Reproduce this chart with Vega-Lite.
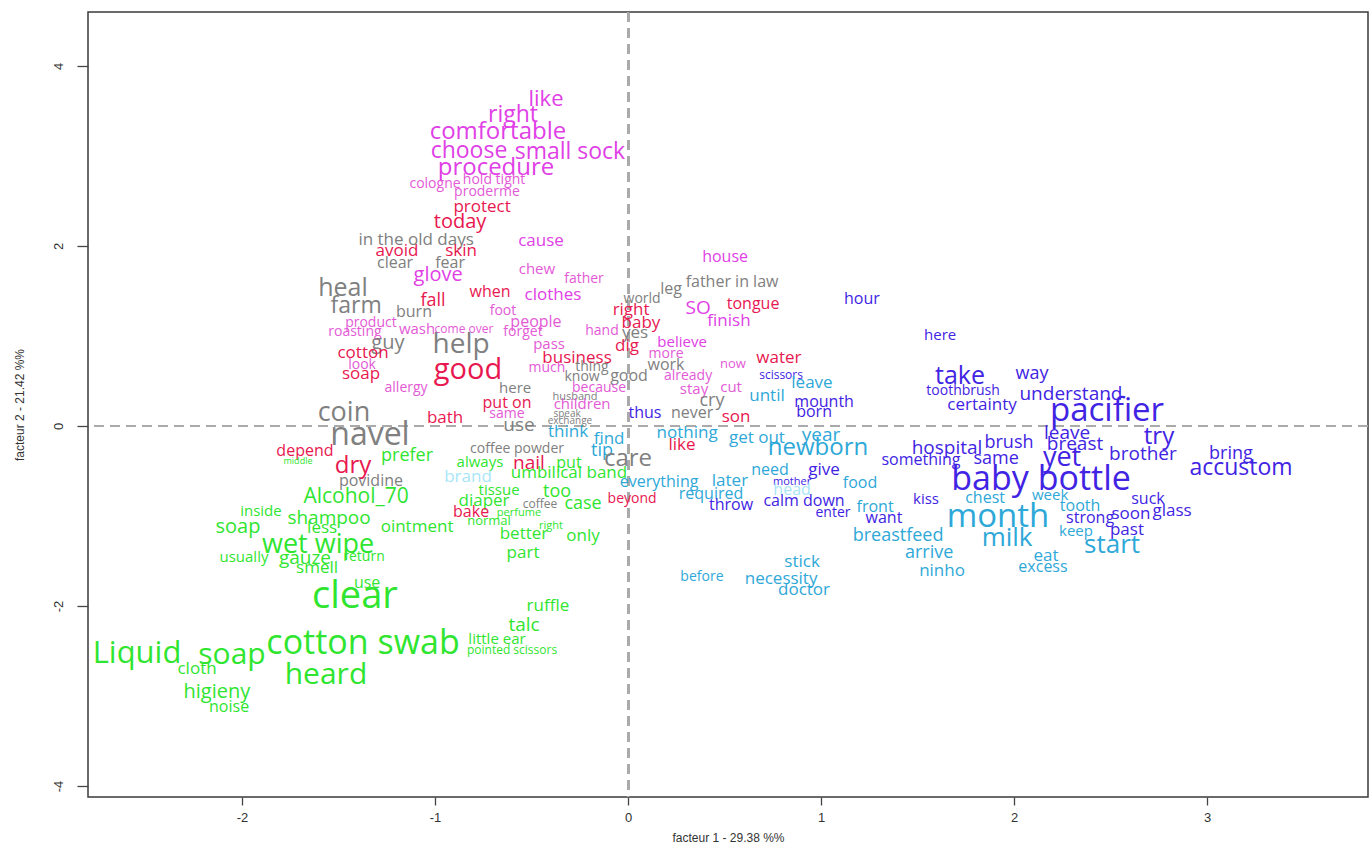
{
  "$schema": "https://vega.github.io/schema/vega-lite/v6.json",
  "width": 1280,
  "height": 785,
  "autosize": {"type": "none"},
  "padding": {"left": 88, "top": 12, "right": 4, "bottom": 51},
  "background": "white",
  "config": {
    "view": {"stroke": "#3a3a3a", "strokeWidth": 1.5},
    "axis": {
      "labelFont": "Liberation Sans Narrow, Arial Narrow, Liberation Sans",
      "titleFont": "Liberation Sans Narrow, Arial Narrow, Liberation Sans",
      "labelFontSize": 13,
      "titleFontSize": 12,
      "titleFontWeight": "normal",
      "labelColor": "#333333",
      "titleColor": "#333333",
      "tickColor": "#444444",
      "tickWidth": 1.3,
      "grid": false,
      "domain": false
    }
  },
  "data": {
    "values": [
      {"w":"like","x":-0.425,"y":3.633,"f":22,"c":"M"},
      {"w":"right","x":-0.596,"y":3.456,"f":23,"c":"M"},
      {"w":"comfortable","x":-0.674,"y":3.267,"f":24,"c":"M"},
      {"w":"choose","x":-0.824,"y":3.056,"f":23,"c":"M"},
      {"w":"small sock","x":-0.301,"y":3.044,"f":23,"c":"M"},
      {"w":"procedure","x":-0.684,"y":2.867,"f":24,"c":"M"},
      {"w":"cologne","x":-1.0,"y":2.689,"f":14,"c":"P"},
      {"w":"hold tight","x":-0.694,"y":2.733,"f":14,"c":"P"},
      {"w":"proderme","x":-0.731,"y":2.6,"f":14,"c":"P"},
      {"w":"protect","x":-0.756,"y":2.433,"f":17,"c":"C"},
      {"w":"today","x":-0.87,"y":2.267,"f":20,"c":"C"},
      {"w":"in the old days","x":-1.098,"y":2.067,"f":17,"c":"G"},
      {"w":"cause","x":-0.451,"y":2.056,"f":17,"c":"M"},
      {"w":"avoid","x":-1.197,"y":1.944,"f":17,"c":"C"},
      {"w":"skin","x":-0.865,"y":1.944,"f":17,"c":"C"},
      {"w":"clear","x":-1.207,"y":1.811,"f":16,"c":"G"},
      {"w":"fear","x":-0.922,"y":1.811,"f":16,"c":"G"},
      {"w":"chew","x":-0.472,"y":1.744,"f":15,"c":"P"},
      {"w":"glove","x":-0.984,"y":1.678,"f":20,"c":"M"},
      {"w":"father","x":-0.228,"y":1.633,"f":14,"c":"P"},
      {"w":"heal","x":-1.477,"y":1.533,"f":25,"c":"G"},
      {"w":"when","x":-0.715,"y":1.489,"f":16,"c":"C"},
      {"w":"clothes","x":-0.389,"y":1.456,"f":17,"c":"M"},
      {"w":"farm","x":-1.409,"y":1.333,"f":23,"c":"G"},
      {"w":"fall","x":-1.01,"y":1.389,"f":18,"c":"C"},
      {"w":"burn","x":-1.109,"y":1.267,"f":16,"c":"G"},
      {"w":"foot","x":-0.648,"y":1.278,"f":14,"c":"P"},
      {"w":"world","x":0.073,"y":1.411,"f":14,"c":"G"},
      {"w":"right","x":0.016,"y":1.289,"f":17,"c":"C"},
      {"w":"baby","x":0.067,"y":1.144,"f":17,"c":"C"},
      {"w":"product","x":-1.332,"y":1.144,"f":14,"c":"P"},
      {"w":"roasting","x":-1.415,"y":1.044,"f":14,"c":"P"},
      {"w":"wash","x":-1.093,"y":1.078,"f":15,"c":"P"},
      {"w":"come over","x":-0.85,"y":1.078,"f":12,"c":"P"},
      {"w":"people","x":-0.477,"y":1.156,"f":16,"c":"P"},
      {"w":"forget","x":-0.544,"y":1.044,"f":14,"c":"P"},
      {"w":"hand","x":-0.135,"y":1.056,"f":14,"c":"P"},
      {"w":"yes","x":0.036,"y":1.033,"f":17,"c":"G"},
      {"w":"guy","x":-1.244,"y":0.922,"f":20,"c":"G"},
      {"w":"help","x":-0.865,"y":0.9,"f":28,"c":"G"},
      {"w":"dig","x":-0.005,"y":0.889,"f":17,"c":"C"},
      {"w":"pass","x":-0.409,"y":0.911,"f":15,"c":"P"},
      {"w":"cotton","x":-1.373,"y":0.811,"f":17,"c":"C"},
      {"w":"business","x":-0.264,"y":0.756,"f":17,"c":"C"},
      {"w":"believe","x":0.28,"y":0.933,"f":15,"c":"M"},
      {"w":"more","x":0.197,"y":0.8,"f":14,"c":"P"},
      {"w":"look","x":-1.378,"y":0.678,"f":14,"c":"P"},
      {"w":"much","x":-0.42,"y":0.644,"f":14,"c":"P"},
      {"w":"thing","x":-0.187,"y":0.656,"f":14,"c":"G"},
      {"w":"good","x":-0.829,"y":0.622,"f":29,"c":"C"},
      {"w":"soap","x":-1.383,"y":0.578,"f":17,"c":"C"},
      {"w":"know","x":-0.238,"y":0.544,"f":14,"c":"G"},
      {"w":"good","x":0.005,"y":0.556,"f":16,"c":"G"},
      {"w":"work","x":0.197,"y":0.678,"f":16,"c":"G"},
      {"w":"now","x":0.544,"y":0.689,"f":13,"c":"P"},
      {"w":"water","x":0.782,"y":0.756,"f":17,"c":"C"},
      {"w":"already","x":0.311,"y":0.556,"f":14,"c":"P"},
      {"w":"scissors","x":0.793,"y":0.567,"f":12,"c":"B"},
      {"w":"because","x":-0.15,"y":0.422,"f":14,"c":"P"},
      {"w":"allergy","x":-1.15,"y":0.422,"f":14,"c":"P"},
      {"w":"here","x":-0.585,"y":0.422,"f":15,"c":"G"},
      {"w":"stay","x":0.342,"y":0.411,"f":15,"c":"P"},
      {"w":"cut","x":0.534,"y":0.433,"f":15,"c":"P"},
      {"w":"leave","x":0.953,"y":0.478,"f":17,"c":"Cy"},
      {"w":"cry","x":0.435,"y":0.278,"f":18,"c":"G"},
      {"w":"until","x":0.72,"y":0.333,"f":17,"c":"Cy"},
      {"w":"mounth","x":1.016,"y":0.267,"f":16,"c":"B"},
      {"w":"born","x":0.964,"y":0.156,"f":16,"c":"B"},
      {"w":"thus","x":0.088,"y":0.144,"f":16,"c":"B"},
      {"w":"never","x":0.332,"y":0.144,"f":16,"c":"G"},
      {"w":"son","x":0.56,"y":0.1,"f":17,"c":"C"},
      {"w":"house","x":0.503,"y":1.878,"f":16,"c":"M"},
      {"w":"father in law","x":0.539,"y":1.6,"f":16,"c":"G"},
      {"w":"leg","x":0.223,"y":1.522,"f":16,"c":"G"},
      {"w":"SO","x":0.363,"y":1.311,"f":19,"c":"M"},
      {"w":"tongue","x":0.648,"y":1.356,"f":16,"c":"C"},
      {"w":"finish","x":0.523,"y":1.167,"f":17,"c":"M"},
      {"w":"hour","x":1.212,"y":1.411,"f":16,"c":"B"},
      {"w":"husband","x":-0.275,"y":0.322,"f":11,"c":"G"},
      {"w":"put on","x":-0.627,"y":0.256,"f":16,"c":"C"},
      {"w":"children","x":-0.238,"y":0.244,"f":15,"c":"P"},
      {"w":"coin","x":-1.472,"y":0.144,"f":27,"c":"G"},
      {"w":"bath","x":-0.948,"y":0.089,"f":17,"c":"C"},
      {"w":"same","x":-0.627,"y":0.133,"f":14,"c":"P"},
      {"w":"speak","x":-0.316,"y":0.133,"f":10,"c":"G"},
      {"w":"exchange","x":-0.301,"y":0.056,"f":10,"c":"G"},
      {"w":"use","x":-0.565,"y":0.011,"f":19,"c":"G"},
      {"w":"navel","x":-1.337,"y":-0.1,"f":32,"c":"G"},
      {"w":"think","x":-0.311,"y":-0.067,"f":17,"c":"Cy"},
      {"w":"find","x":-0.098,"y":-0.144,"f":17,"c":"Cy"},
      {"w":"depend","x":-1.674,"y":-0.278,"f":16,"c":"C"},
      {"w":"coffee powder","x":-0.575,"y":-0.256,"f":14,"c":"G"},
      {"w":"prefer","x":-1.145,"y":-0.333,"f":18,"c":"Gr"},
      {"w":"tip","x":-0.135,"y":-0.278,"f":18,"c":"Cy"},
      {"w":"care","x":0.0,"y":-0.367,"f":24,"c":"G"},
      {"w":"middle","x":-1.71,"y":-0.389,"f":9,"c":"Gr"},
      {"w":"dry","x":-1.425,"y":-0.444,"f":24,"c":"C"},
      {"w":"always","x":-0.767,"y":-0.4,"f":15,"c":"Gr"},
      {"w":"nail","x":-0.513,"y":-0.411,"f":19,"c":"C"},
      {"w":"put","x":-0.306,"y":-0.411,"f":16,"c":"Gr"},
      {"w":"umbilical band","x":-0.306,"y":-0.522,"f":17,"c":"Gr"},
      {"w":"povidine","x":-1.332,"y":-0.611,"f":16,"c":"G"},
      {"w":"brand","x":-0.829,"y":-0.567,"f":17,"c":"LC"},
      {"w":"everything","x":0.161,"y":-0.622,"f":16,"c":"Cy"},
      {"w":"Alcohol_70","x":-1.409,"y":-0.789,"f":21,"c":"Gr"},
      {"w":"tissue","x":-0.668,"y":-0.711,"f":15,"c":"Gr"},
      {"w":"too","x":-0.368,"y":-0.733,"f":18,"c":"Gr"},
      {"w":"diaper","x":-0.746,"y":-0.833,"f":17,"c":"Gr"},
      {"w":"coffee","x":-0.456,"y":-0.867,"f":12,"c":"G"},
      {"w":"case","x":-0.233,"y":-0.867,"f":18,"c":"Gr"},
      {"w":"beyond","x":0.021,"y":-0.811,"f":14,"c":"C"},
      {"w":"bake","x":-0.813,"y":-0.956,"f":16,"c":"C"},
      {"w":"perfume","x":-0.565,"y":-0.967,"f":11,"c":"Gr"},
      {"w":"shampoo","x":-1.549,"y":-1.022,"f":19,"c":"Gr"},
      {"w":"normal","x":-0.72,"y":-1.056,"f":13,"c":"Gr"},
      {"w":"less","x":-1.585,"y":-1.133,"f":17,"c":"Gr"},
      {"w":"ointment","x":-1.093,"y":-1.122,"f":17,"c":"Gr"},
      {"w":"right","x":-0.399,"y":-1.111,"f":11,"c":"Gr"},
      {"w":"better","x":-0.539,"y":-1.2,"f":17,"c":"Gr"},
      {"w":"only","x":-0.233,"y":-1.222,"f":17,"c":"Gr"},
      {"w":"wet wipe","x":-1.606,"y":-1.322,"f":27,"c":"Gr"},
      {"w":"inside","x":-1.902,"y":-0.944,"f":15,"c":"Gr"},
      {"w":"soap","x":-2.021,"y":-1.122,"f":20,"c":"Gr"},
      {"w":"usually","x":-1.99,"y":-1.456,"f":15,"c":"Gr"},
      {"w":"gauze","x":-1.674,"y":-1.467,"f":19,"c":"Gr"},
      {"w":"return","x":-1.368,"y":-1.456,"f":14,"c":"Gr"},
      {"w":"smell","x":-1.611,"y":-1.578,"f":17,"c":"Gr"},
      {"w":"part","x":-0.544,"y":-1.411,"f":17,"c":"Gr"},
      {"w":"use","x":-1.352,"y":-1.744,"f":16,"c":"Gr"},
      {"w":"clear","x":-1.415,"y":-1.9,"f":38,"c":"Gr"},
      {"w":"ruffle","x":-0.415,"y":-2.0,"f":17,"c":"Gr"},
      {"w":"talc","x":-0.539,"y":-2.211,"f":19,"c":"Gr"},
      {"w":"little ear","x":-0.679,"y":-2.367,"f":15,"c":"Gr"},
      {"w":"pointed scissors","x":-0.601,"y":-2.489,"f":12,"c":"Gr"},
      {"w":"cotton swab","x":-1.373,"y":-2.422,"f":34,"c":"Gr"},
      {"w":"Liquid","x":-2.544,"y":-2.533,"f":31,"c":"Gr"},
      {"w":"soap","x":-2.052,"y":-2.544,"f":30,"c":"Gr"},
      {"w":"cloth","x":-2.233,"y":-2.7,"f":17,"c":"Gr"},
      {"w":"heard","x":-1.565,"y":-2.767,"f":30,"c":"Gr"},
      {"w":"higieny","x":-2.13,"y":-2.956,"f":20,"c":"Gr"},
      {"w":"noise","x":-2.067,"y":-3.122,"f":16,"c":"Gr"},
      {"w":"nothing","x":0.306,"y":-0.078,"f":17,"c":"Cy"},
      {"w":"get out","x":0.668,"y":-0.133,"f":17,"c":"Cy"},
      {"w":"year","x":1.0,"y":-0.1,"f":19,"c":"Cy"},
      {"w":"like","x":0.28,"y":-0.211,"f":17,"c":"C"},
      {"w":"newborn","x":0.984,"y":-0.244,"f":24,"c":"Cy"},
      {"w":"need","x":0.736,"y":-0.489,"f":16,"c":"Cy"},
      {"w":"give","x":1.016,"y":-0.489,"f":17,"c":"B"},
      {"w":"later","x":0.528,"y":-0.611,"f":17,"c":"Cy"},
      {"w":"mother","x":0.85,"y":-0.622,"f":11,"c":"B"},
      {"w":"head","x":0.85,"y":-0.711,"f":16,"c":"LC"},
      {"w":"food","x":1.202,"y":-0.633,"f":16,"c":"Cy"},
      {"w":"required","x":0.43,"y":-0.756,"f":16,"c":"Cy"},
      {"w":"calm down","x":0.912,"y":-0.833,"f":16,"c":"B"},
      {"w":"throw","x":0.534,"y":-0.878,"f":16,"c":"B"},
      {"w":"enter","x":1.062,"y":-0.967,"f":14,"c":"B"},
      {"w":"front","x":1.28,"y":-0.9,"f":16,"c":"Cy"},
      {"w":"want","x":1.326,"y":-1.022,"f":16,"c":"B"},
      {"w":"breastfeed","x":1.399,"y":-1.222,"f":18,"c":"Cy"},
      {"w":"stick","x":0.902,"y":-1.511,"f":17,"c":"Cy"},
      {"w":"before","x":0.383,"y":-1.678,"f":14,"c":"Cy"},
      {"w":"necessity","x":0.793,"y":-1.7,"f":17,"c":"Cy"},
      {"w":"doctor","x":0.912,"y":-1.822,"f":17,"c":"Cy"},
      {"w":"here","x":1.617,"y":1.011,"f":15,"c":"B"},
      {"w":"take","x":1.72,"y":0.556,"f":25,"c":"B"},
      {"w":"way","x":2.093,"y":0.578,"f":18,"c":"B"},
      {"w":"toothbrush","x":1.736,"y":0.389,"f":14,"c":"B"},
      {"w":"understand","x":2.295,"y":0.356,"f":19,"c":"B"},
      {"w":"certainty","x":1.834,"y":0.233,"f":17,"c":"B"},
      {"w":"pacifier","x":2.482,"y":0.167,"f":33,"c":"B"},
      {"w":"leave","x":2.275,"y":-0.078,"f":19,"c":"B"},
      {"w":"try","x":2.751,"y":-0.122,"f":24,"c":"B"},
      {"w":"brush","x":1.974,"y":-0.189,"f":18,"c":"B"},
      {"w":"breast","x":2.316,"y":-0.2,"f":19,"c":"B"},
      {"w":"hospital","x":1.653,"y":-0.244,"f":19,"c":"B"},
      {"w":"brother","x":2.668,"y":-0.311,"f":19,"c":"B"},
      {"w":"something","x":1.518,"y":-0.378,"f":16,"c":"B"},
      {"w":"same","x":1.907,"y":-0.367,"f":18,"c":"B"},
      {"w":"yet","x":2.249,"y":-0.356,"f":27,"c":"B"},
      {"w":"bring","x":3.124,"y":-0.311,"f":18,"c":"B"},
      {"w":"accustom","x":3.176,"y":-0.467,"f":23,"c":"B"},
      {"w":"baby bottle","x":2.14,"y":-0.6,"f":34,"c":"B"},
      {"w":"kiss","x":1.544,"y":-0.811,"f":15,"c":"B"},
      {"w":"chest","x":1.85,"y":-0.8,"f":16,"c":"Cy"},
      {"w":"week","x":2.187,"y":-0.767,"f":15,"c":"Cy"},
      {"w":"suck","x":2.694,"y":-0.811,"f":16,"c":"B"},
      {"w":"tooth","x":2.342,"y":-0.889,"f":16,"c":"Cy"},
      {"w":"month","x":1.917,"y":-1.011,"f":33,"c":"Cy"},
      {"w":"soon","x":2.606,"y":-0.978,"f":17,"c":"B"},
      {"w":"glass","x":2.819,"y":-0.944,"f":17,"c":"B"},
      {"w":"strong","x":2.394,"y":-1.022,"f":16,"c":"B"},
      {"w":"keep","x":2.321,"y":-1.167,"f":15,"c":"Cy"},
      {"w":"past","x":2.585,"y":-1.156,"f":17,"c":"B"},
      {"w":"milk","x":1.964,"y":-1.244,"f":26,"c":"Cy"},
      {"w":"start","x":2.508,"y":-1.322,"f":26,"c":"Cy"},
      {"w":"arrive","x":1.56,"y":-1.411,"f":18,"c":"Cy"},
      {"w":"eat","x":2.166,"y":-1.444,"f":17,"c":"Cy"},
      {"w":"ninho","x":1.627,"y":-1.611,"f":17,"c":"Cy"},
      {"w":"excess","x":2.15,"y":-1.567,"f":16,"c":"Cy"}
    ]
  },
  "layer": [
    {
      "mark": {"type": "rule", "color": "#aaaaaa", "strokeWidth": 2, "strokeDash": [10, 6]},
      "encoding": {"x": {"datum": 0, "type": "quantitative"}}
    },
    {
      "mark": {"type": "rule", "color": "#aaaaaa", "strokeWidth": 2, "strokeDash": [10, 6]},
      "encoding": {"y": {"datum": 0, "type": "quantitative"}}
    },
    {
      "mark": {"type": "text", "font": "Open Sans", "align": "center", "baseline": "middle"},
      "encoding": {
        "x": {
          "field": "x", "type": "quantitative",
          "scale": {"domain": [-2.798, 3.834], "nice": false, "zero": false},
          "axis": {"values": [-2, -1, 0, 1, 2, 3], "labelExpr": "'' + datum.value", "title": "facteur  1  - 29.38 %%", "tickSize": 8, "labelPadding": 6, "titlePadding": 8}
        },
        "y": {
          "field": "y", "type": "quantitative",
          "scale": {"domain": [-4.122, 4.6], "nice": false, "zero": false},
          "axis": {"values": [-4, -2, 0, 2, 4], "labelExpr": "'' + datum.value", "title": "facteur 2 - 21.42 %%", "tickSize": 11, "labelAngle": -90, "labelAlign": "center", "labelBaseline": "bottom", "labelPadding": 12, "titlePadding": 26}
        },
        "text": {"field": "w"},
        "size": {"field": "f", "type": "quantitative", "scale": {"type": "linear", "domain": [0, 40], "range": [0, 40]}, "legend": null},
        "color": {
          "field": "c", "type": "nominal", "legend": null,
          "scale": {
            "domain": ["C", "M", "P", "G", "Gr", "Cy", "LC", "B"],
            "range": ["#e8174f", "#e040e6", "#e35ad6", "#808080", "#2fe52f", "#2ea8d8", "#a8e6f8", "#4124e3"]
          }
        }
      }
    }
  ]
}
